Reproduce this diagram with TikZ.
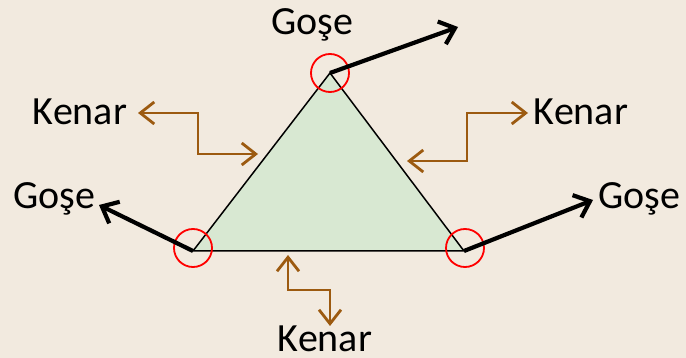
\documentclass[tikz,border=0pt]{standalone}
\usepackage{fontspec}
\setmainfont{Carlito}
\usetikzlibrary{arrows.meta}
\definecolor{bgc}{HTML}{F2EADF}
\definecolor{trifill}{HTML}{D8E8D2}
\definecolor{brn}{HTML}{9C5A10}
\tikzset{
  lbl/.style={font=\fontsize{40}{44}\selectfont, inner sep=0pt, text=black},
  blackarrow/.style={line width=4.2pt, -{Straight Barb[length=14pt,width=24pt,line width=4.2pt]}},
  brownarrow/.style={line width=2.8pt, draw=brn, {Straight Barb[length=14pt,width=22pt,line width=2.8pt]}-{Straight Barb[length=14pt,width=22pt,line width=2.8pt]}},
  corner/.style={draw=red, line width=1.8pt},
}
\begin{document}
\begin{tikzpicture}[x=1pt,y=-1pt]
\fill[bgc] (0,0) rectangle (686,358);
\useasboundingbox (0,0) rectangle (686,358);
% triangle
\coordinate (T) at (330,73);
\coordinate (L) at (193,251);
\coordinate (R) at (464,251);
\filldraw[fill=trifill, draw=black, line width=1.5pt, line join=miter] (T) -- (L) -- (R) -- cycle;
% corner circles
\draw[corner] (330,73) circle (19);
\draw[corner] (193,248) circle (19);
\draw[corner] (465,248) circle (19);
% labels
\node[lbl] (gtop) at (312,25) {Goşe};
\node[lbl] (gleft) at (54,199) {Goşe};
\node[lbl] (gright) at (639,199) {Goşe};
\node[lbl] (kleft) at (80,112) {Kenar};
\node[lbl] (kright) at (581,112) {Kenar};
\node[lbl] (kbot) at (325,339) {Kenar};
% black arrows
\coordinate (et) at (458,27);
\coordinate (el) at (99,205);
\coordinate (er) at (593,200);
\draw[blackarrow] (T) -- (et);
\draw[blackarrow] (L) -- (el);
\draw[blackarrow] (R) -- (er);
% brown double arrows
\coordinate (bl1) at (138,113);
\coordinate (bl2) at (258,154);
\draw[brownarrow] (bl1) -- (198,113) -- (198,154) -- (bl2);
\coordinate (br1) at (528,113);
\coordinate (br2) at (407,161);
\draw[brownarrow] (br1) -- (467,113) -- (467,161) -- (br2);
\coordinate (bb1) at (288,255);
\coordinate (bb2) at (330,326);
\draw[brownarrow] (bb1) -- (288,290) -- (330,290) -- (bb2);
\end{tikzpicture}
\end{document}
